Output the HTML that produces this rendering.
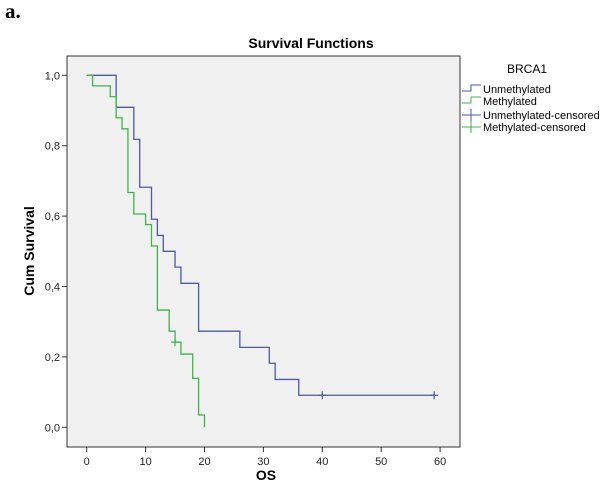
<!DOCTYPE html>
<html><head><meta charset="utf-8">
<style>
body{margin:0;background:#fff;width:600px;height:494px;overflow:hidden}
svg{display:block}
</style></head><body>
<svg id="chart" width="600" height="494" xmlns="http://www.w3.org/2000/svg" font-family="Liberation Sans, sans-serif">
<text x="5" y="18" font-family="Liberation Serif, serif" font-weight="bold" font-size="21">a.</text>
<text x="311" y="48" text-anchor="middle" font-weight="bold" font-size="14">Survival Functions</text>
<rect x="67" y="56" width="393" height="391" fill="#f0f0f0" stroke="#333" stroke-width="1"/>
<g id="axes"></g>
<g id="series"></g>
<text x="266" y="480" text-anchor="middle" font-weight="bold" font-size="14">OS</text>
<text transform="translate(34,251) rotate(-90)" text-anchor="middle" font-weight="bold" font-size="14">Cum Survival</text>
<g>
<text x="527" y="73" text-anchor="middle" font-size="12">BRCA1</text>
<g><path d="M462 91H471V85H481" fill="none" stroke="#4a5aa8"/><text x="483" y="93" font-size="11">Unmethylated</text></g>
<g><path d="M462 103H471V97H481" fill="none" stroke="#3cb44a"/><text x="483" y="105" font-size="11">Methylated</text></g>
<g><path d="M462 115H481M471 109V121" fill="none" stroke="#4a5aa8"/><text x="483" y="119" font-size="11">Unmethylated-censored</text></g>
<g><path d="M462 127H481M471 121V133" fill="none" stroke="#3cb44a"/><text x="483" y="131" font-size="11">Methylated-censored</text></g>
</g>
</svg>
<script>
const xTicks=[0,10,20,30,40,50,60];
const yTicks=[0,0.2,0.4,0.6,0.8,1.0];
const yTickLabels=["0,0","0,2","0,4","0,6","0,8","1,0"];
const unmethTimes=[0,5,8,9,11,12,13,15,16,19,26,31,32,36,59];
const unmethSurv=[1.0,0.909,0.818,0.682,0.591,0.545,0.5,0.455,0.409,0.273,0.227,0.182,0.136,0.091,0.091];
const unmethCensorT=[40,59];
const unmethCensorS=[0.091,0.091];
const methTimes=[0,1,4,5,6,7,8,10,11,12,14,15,16,18,19,20];
const methSurv=[1.0,0.970,0.939,0.879,0.848,0.667,0.606,0.576,0.515,0.333,0.273,0.242,0.208,0.139,0.035,0.0];
const methCensorT=[15];
const methCensorS=[0.242];
const NS="http://www.w3.org/2000/svg";
const xs=t=>86.7+t*5.89;
const ys=s=>427.3-s*352;
const axes=document.getElementById('axes'),ser=document.getElementById('series');
function mk(tag,attrs,parent){const e=document.createElementNS(NS,tag);for(const k in attrs)e.setAttribute(k,attrs[k]);parent.appendChild(e);return e;}
xTicks.forEach(v=>{
 const l=mk('line',{x1:xs(v),x2:xs(v),y1:447,y2:452,stroke:'#333'},axes);
 
 
 const t=mk('text',{x:xs(v),y:465,'text-anchor':'middle','font-size':'11',fill:'#222'},axes);t.textContent=v;
 
 
});
yTicks.forEach((v,i)=>{
 const l=mk('line',{x1:62,x2:67,y1:ys(v),y2:ys(v),stroke:'#333'},axes);
 
 
 const t=mk('text',{x:60,y:ys(v)+4,'text-anchor':'end','font-size':'11',fill:'#222'},axes);t.textContent=yTickLabels[i];
 
 
});
function step(T,S,color,name){
 let d='M'+xs(T[0])+' '+ys(S[0]);
 for(let i=1;i<T.length;i++){d+='H'+xs(T[i])+'V'+ys(S[i]);}
 const p=mk('path',{d:d,fill:'none',stroke:color,'stroke-width':'1.3'},ser);
 
 
}
function cens(T,S,color,name){
 T.forEach((t,i)=>{const x=xs(t),y=ys(S[i]);
  const p=mk('path',{d:`M${x-4} ${y}H${x+4}M${x} ${y-4}V${y+4}`,stroke:color,'stroke-width':'1.2'},ser);
  
  
 });
}
step(unmethTimes,unmethSurv,'#4a5aa8','unmethylated-curve');
step(methTimes,methSurv,'#3cb44a','methylated-curve');
cens(unmethCensorT,unmethCensorS,'#4a5aa8','unmethylated-censor-mark');
cens(methCensorT,methCensorS,'#3cb44a','methylated-censor-mark');
</script>
</body></html>
